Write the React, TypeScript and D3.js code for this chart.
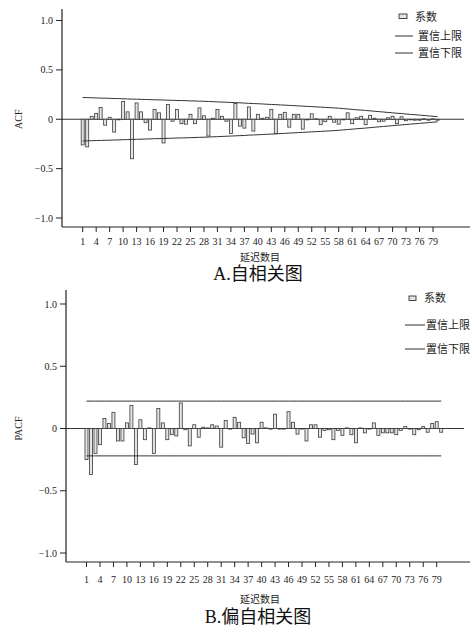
import React, { useEffect, useRef } from 'react';
import * as d3 from 'd3';

// lags 1..80
const lags = d3.range(1, 81);
const xTickLags = [1, 4, 7, 10, 13, 16, 19, 22, 25, 28, 31, 34, 37, 40, 43, 46, 49, 52, 55, 58, 61, 64, 67, 70, 73, 76, 79];
const yTicks = [1.0, 0.5, 0, -0.5, -1.0];
const yTickLabels = ['1.0', '0.5', '0', '\u22120.5', '\u22121.0'];
const legendLabels = ['系数', '置信上限', '置信下限'];

const acfValues = [
  -0.26, -0.28, 0.03, 0.06, 0.12, -0.06, 0.02, -0.13, 0.0, 0.18,
  0.075, -0.40, 0.165, 0.075, -0.035, -0.11, 0.10, 0.065, -0.24, 0.15,
  -0.02, 0.10, -0.045, -0.05, 0.05, -0.045, 0.115, 0.035, -0.17, 0.01,
  0.10, 0.03, -0.02, -0.145, 0.16, -0.07, -0.09, 0.125, -0.12, 0.05,
  0.01, 0.02, 0.10, -0.145, 0.05, 0.07, -0.08, 0.05, 0.05, -0.10,
  0.0, 0.055, 0.005, -0.055, -0.025, 0.03, -0.03, -0.05, -0.005, 0.065,
  -0.045, 0.015, 0.03, -0.055, 0.04, 0.01, -0.025, -0.02, 0.015, 0.03,
  -0.045, 0.025, -0.015, -0.005, -0.01, -0.01, 0.005, -0.01, 0.005, -0.01,
];

const acfUpper = [
  0.220, 0.219, 0.217, 0.216, 0.214, 0.213, 0.212, 0.210, 0.209, 0.207,
  0.206, 0.204, 0.203, 0.202, 0.200, 0.199, 0.197, 0.196, 0.195, 0.193,
  0.192, 0.190, 0.189, 0.188, 0.186, 0.185, 0.183, 0.182, 0.180, 0.178,
  0.176, 0.174, 0.172, 0.170, 0.168, 0.166, 0.164, 0.161, 0.159, 0.157,
  0.155, 0.152, 0.150, 0.148, 0.145, 0.143, 0.140, 0.138, 0.135, 0.133,
  0.130, 0.128, 0.125, 0.123, 0.120, 0.118, 0.115, 0.112, 0.108, 0.104,
  0.100, 0.096, 0.093, 0.089, 0.085, 0.081, 0.077, 0.073, 0.069, 0.065,
  0.061, 0.057, 0.053, 0.049, 0.046, 0.042, 0.038, 0.034, 0.030, 0.026,
];

const acfLower = [
  -0.220, -0.219, -0.217, -0.216, -0.214, -0.213, -0.212, -0.210, -0.209, -0.207,
  -0.206, -0.204, -0.203, -0.202, -0.200, -0.199, -0.197, -0.196, -0.195, -0.193,
  -0.192, -0.190, -0.189, -0.188, -0.186, -0.185, -0.183, -0.182, -0.180, -0.178,
  -0.176, -0.174, -0.172, -0.170, -0.168, -0.166, -0.164, -0.161, -0.159, -0.157,
  -0.155, -0.152, -0.150, -0.148, -0.145, -0.143, -0.140, -0.138, -0.135, -0.133,
  -0.130, -0.128, -0.125, -0.123, -0.120, -0.118, -0.115, -0.112, -0.108, -0.104,
  -0.100, -0.096, -0.093, -0.089, -0.085, -0.081, -0.077, -0.073, -0.069, -0.065,
  -0.061, -0.057, -0.053, -0.049, -0.046, -0.042, -0.038, -0.034, -0.030, -0.026,
];

const pacfValues = [
  -0.25, -0.37, -0.20, -0.13, 0.08, 0.04, 0.13, -0.10, -0.10, 0.045,
  0.185, -0.29, 0.07, -0.09, 0.005, -0.20, 0.16, 0.045, -0.09, -0.05,
  -0.06, 0.205, -0.01, -0.14, 0.03, -0.07, 0.01, 0.005, 0.03, 0.02,
  -0.15, 0.065, -0.005, 0.09, 0.05, -0.075, -0.12, -0.045, -0.115, 0.05,
  0.005, -0.005, 0.115, 0.0, -0.005, 0.135, 0.05, -0.045, 0.0, -0.10,
  0.03, 0.03, -0.07, -0.015, -0.01, -0.09, -0.015, -0.055, 0.005, -0.05,
  -0.115, 0.005, -0.035, 0.0, 0.045, -0.055, -0.035, -0.035, -0.035, -0.05,
  -0.015, 0.015, 0.0, -0.05, -0.01, 0.015, -0.03, 0.04, 0.055, -0.03,
];

const pacfUpper = lags.map(() => 0.22);
const pacfLower = lags.map(() => -0.22);

const SERIF = '"Liberation Serif", "DejaVu Serif", serif';
const CJK = '"Noto Sans CJK SC", "Noto Sans", sans-serif';

type PanelCfg = {
  values: number[];
  upper: number[];
  lower: number[];
  axisX: number;
  top: number;
  bottom: number;
  yOne: number;
  yMinusOne: number;
  yLabel: string;
  x1: number;
  x79: number;
  tickLabelY: number;
  xTitleY: number;
  captionY: number;
  caption: string;
  legend: { rectX: number; rectY: number; rectW: number; rectH: number; lineX1: number; lineX2: number; textX: number; rows: number[] };
};

function drawPanel(svg: d3.Selection<SVGSVGElement, unknown, null, undefined>, cfg: PanelCfg) {
  const g = svg.append('g');
  const x = d3.scaleLinear().domain([1, 79]).range([cfg.x1, cfg.x79]);
  const y = d3.scaleLinear().domain([-1, 1]).range([cfg.yMinusOne, cfg.yOne]);
  const barW = 3;

  // zero line
  g.append('line')
    .attr('x1', cfg.axisX).attr('x2', 464)
    .attr('y1', y(0)).attr('y2', y(0))
    .attr('stroke', '#333').attr('stroke-width', 1);

  // bars
  g.selectAll('rect.bar')
    .data(cfg.values)
    .enter()
    .append('rect')
    .attr('class', 'bar')
    .attr('x', (d, i) => x(lags[i]) - barW / 2)
    .attr('y', d => y(Math.max(0, d)))
    .attr('width', barW)
    .attr('height', d => Math.max(0.6, Math.abs(y(d) - y(0))))
    .attr('fill', '#e4e4e4')
    .attr('stroke', '#3a3a3a')
    .attr('stroke-width', 0.8);

  // confidence limits
  const line = d3.line<number>().x((d, i) => x(lags[i])).y(d => y(d));
  [cfg.upper, cfg.lower].forEach(arr => {
    g.append('path')
      .attr('d', line(arr))
      .attr('fill', 'none')
      .attr('stroke', '#333')
      .attr('stroke-width', 1);
  });

  // y axis
  g.append('line')
    .attr('x1', cfg.axisX).attr('x2', cfg.axisX)
    .attr('y1', cfg.top).attr('y2', cfg.bottom)
    .attr('stroke', '#222').attr('stroke-width', 1.2);
  yTicks.forEach((t, i) => {
    g.append('line')
      .attr('x1', cfg.axisX - 6).attr('x2', cfg.axisX)
      .attr('y1', y(t)).attr('y2', y(t))
      .attr('stroke', '#222');
    g.append('text')
      .attr('x', cfg.axisX - 9).attr('y', y(t))
      .attr('dy', '0.35em')
      .attr('text-anchor', 'end')
      .attr('font-family', SERIF).attr('font-size', 10)
      .attr('fill', '#222')
      .text(yTickLabels[i]);
  });
  g.append('text')
    .attr('transform', `translate(18,${y(0)}) rotate(-90)`)
    .attr('text-anchor', 'middle')
    .attr('dy', '0.35em')
    .attr('font-family', SERIF).attr('font-size', 10)
    .attr('fill', '#222')
    .text(cfg.yLabel);

  // x axis
  g.append('line')
    .attr('x1', cfg.axisX).attr('x2', 470)
    .attr('y1', cfg.bottom).attr('y2', cfg.bottom)
    .attr('stroke', '#222').attr('stroke-width', 1.2);
  xTickLags.forEach(l => {
    g.append('line')
      .attr('x1', x(l)).attr('x2', x(l))
      .attr('y1', cfg.bottom).attr('y2', cfg.bottom + 5)
      .attr('stroke', '#222');
    g.append('text')
      .attr('x', x(l)).attr('y', cfg.tickLabelY)
      .attr('dy', '0.35em')
      .attr('text-anchor', 'middle')
      .attr('font-family', SERIF).attr('font-size', 10)
      .attr('fill', '#222')
      .text(l);
  });
  g.append('text')
    .attr('x', 260).attr('y', cfg.xTitleY)
    .attr('dy', '0.35em')
    .attr('text-anchor', 'middle')
    .attr('font-family', CJK).attr('font-size', 10)
    .attr('fill', '#222')
    .text('延迟数目');
  g.append('text')
    .attr('x', 258).attr('y', cfg.captionY)
    .attr('dy', '0.35em')
    .attr('text-anchor', 'middle')
    .attr('font-family', `${SERIF.split(',')[0]}, ${CJK}`).attr('font-size', 18)
    .attr('fill', '#111')
    .text(cfg.caption);

  // legend
  const lg = cfg.legend;
  g.append('rect')
    .attr('x', lg.rectX).attr('y', lg.rectY)
    .attr('width', lg.rectW).attr('height', lg.rectH)
    .attr('fill', '#e4e4e4').attr('stroke', '#333').attr('stroke-width', 0.9);
  legendLabels.forEach((lab, i) => {
    if (i > 0) {
      g.append('line')
        .attr('x1', lg.lineX1).attr('x2', lg.lineX2)
        .attr('y1', lg.rows[i]).attr('y2', lg.rows[i])
        .attr('stroke', '#333').attr('stroke-width', 1);
    }
    g.append('text')
      .attr('x', i === 0 ? lg.rectX + lg.rectW + 8 : lg.textX)
      .attr('y', lg.rows[i])
      .attr('dy', '0.35em')
      .attr('font-family', CJK).attr('font-size', 11)
      .attr('fill', '#222')
      .text(lab);
  });
}

export default function App() {
  const ref = useRef<SVGSVGElement>(null);

  useEffect(() => {
    const svg = d3.select(ref.current as SVGSVGElement);
    svg.selectAll('*').remove();
    svg.append('rect').attr('width', 471).attr('height', 628).attr('fill', '#fff');

    drawPanel(svg, {
      values: acfValues, upper: acfUpper, lower: acfLower,
      axisX: 62, top: 9, bottom: 227, yOne: 20.5, yMinusOne: 218,
      yLabel: 'ACF', x1: 82.7, x79: 433,
      tickLabelY: 241, xTitleY: 257, captionY: 274, caption: 'A.自相关图',
      legend: { rectX: 399, rectY: 14, rectW: 8, rectH: 4.5, lineX1: 395, lineX2: 413, textX: 418, rows: [17, 36, 53] },
    });

    drawPanel(svg, {
      values: pacfValues, upper: pacfUpper, lower: pacfLower,
      axisX: 66, top: 290, bottom: 562, yOne: 304, yMinusOne: 553,
      yLabel: 'PACF', x1: 86.5, x79: 436.7,
      tickLabelY: 579, xTitleY: 599, captionY: 617, caption: 'B.偏自相关图',
      legend: { rectX: 409, rectY: 296, rectW: 7, rectH: 4.5, lineX1: 405, lineX2: 425, textX: 426, rows: [298, 325, 349] },
    });
  }, []);

  return (
    <svg
      ref={ref}
      width={471}
      height={628}
      style={{ position: 'absolute', left: 0, top: 0, display: 'block' }}
    />
  );
}
